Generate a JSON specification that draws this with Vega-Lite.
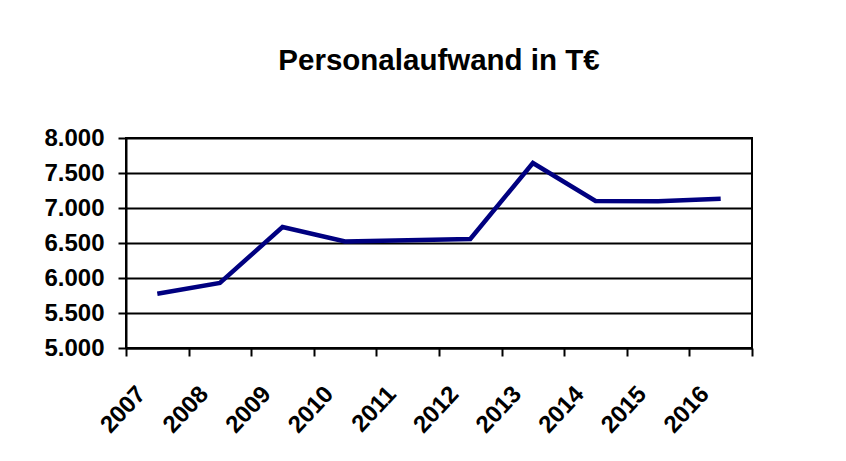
{
  "$schema": "https://vega.github.io/schema/vega-lite/v6.json",
  "width": 626,
  "height": 210,
  "autosize": {"type": "none"},
  "padding": {"left": 126, "top": 138, "right": 94, "bottom": 113},
  "background": "white",
  "title": {
    "text": "Personalaufwand in T€",
    "font": "Liberation Sans",
    "fontSize": 29.5,
    "fontWeight": "bold",
    "color": "black",
    "anchor": "middle",
    "offset": 50
  },
  "data": {
    "values": [
      {"Jahr": "2007", "Wert": 5776},
      {"Jahr": "2008", "Wert": 5929},
      {"Jahr": "2009", "Wert": 6729},
      {"Jahr": "2010", "Wert": 6523},
      {"Jahr": "2011", "Wert": 6540},
      {"Jahr": "2012", "Wert": 6557},
      {"Jahr": "2013", "Wert": 7643},
      {"Jahr": "2014", "Wert": 7100},
      {"Jahr": "2015", "Wert": 7095},
      {"Jahr": "2016", "Wert": 7133}
    ]
  },
  "mark": {"type": "line", "color": "#000080", "strokeWidth": 4.5},
  "encoding": {
    "x": {
      "field": "Jahr",
      "type": "ordinal",
      "bandPosition": 0.5,
      "scale": {"type": "band", "paddingInner": 0, "paddingOuter": 0},
      "axis": {
        "title": null,
        "labelAngle": -47,
        "labelAlign": "right",
        "labelBaseline": "middle",
        "labelFont": "Liberation Sans",
        "labelFontSize": 24,
        "labelFontWeight": "bold",
        "labelColor": "black",
        "labelPadding": 34,
        "labelOffset": -16,
        "tickBand": "extent",
        "tickSize": 8,
        "tickWidth": 2,
        "tickColor": "black",
        "domainColor": "black",
        "domainWidth": 2,
        "grid": false
      }
    },
    "y": {
      "field": "Wert",
      "type": "quantitative",
      "scale": {"domain": [5000, 8000], "nice": false, "zero": false},
      "axis": {
        "title": null,
        "values": [5000, 5500, 6000, 6500, 7000, 7500, 8000],
        "labelExpr": "replace(format(datum.value, ','), ',', '.')",
        "labelFont": "Liberation Sans",
        "labelFontSize": 24,
        "labelFontWeight": "bold",
        "labelColor": "black",
        "labelPadding": 14,
        "tickSize": 8,
        "tickWidth": 2,
        "tickColor": "black",
        "domainColor": "black",
        "domainWidth": 2,
        "grid": true,
        "gridColor": "black",
        "gridWidth": 2,
        "gridOpacity": 1
      }
    }
  },
  "config": {
    "view": {"stroke": "black", "strokeWidth": 2}
  }
}
